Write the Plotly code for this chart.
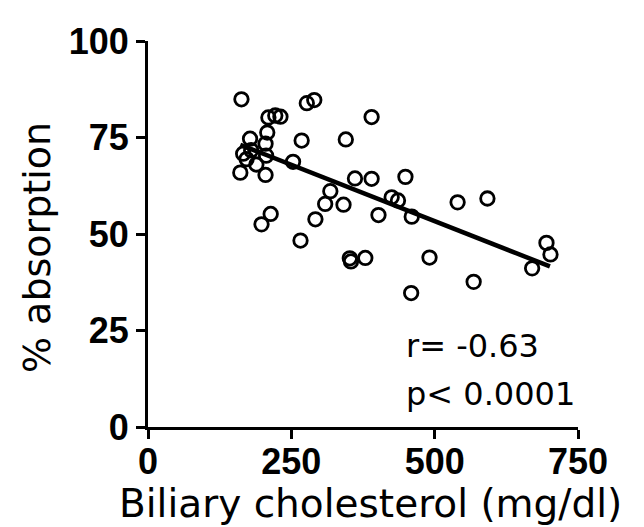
import plotly.graph_objects as go

# Biliary cholesterol (mg/dl) and % absorption
chol = [163, 210, 222, 231, 277, 290, 390, 208, 178, 205, 268, 345, 166, 180, 172,
        206, 189, 253, 161, 205, 361, 390, 449, 318, 309, 341, 425, 436, 460, 402,
        292, 540, 592, 214, 198, 266, 352, 354, 379, 491, 695, 702, 670, 568, 459]
absorb = [84.9, 80.2, 80.7, 80.4, 83.9, 84.7, 80.3, 76.3, 74.7, 73.4, 74.2, 74.5, 70.8, 71.7, 69.4,
          70.3, 68.0, 68.7, 65.9, 65.3, 64.4, 64.3, 64.8, 61.1, 57.8, 57.6, 59.5, 58.7, 54.5, 54.9,
          53.8, 58.2, 59.2, 55.2, 52.5, 48.3, 43.7, 42.9, 43.8, 43.9, 47.7, 44.7, 41.1, 37.6, 34.7]

# regression line end points
fit_chol = [161, 701]
fit_absorb = [73.1, 41.6]

x_ticks = [0, 250, 500, 750]
y_ticks = [0, 25, 50, 75, 100]
stats_text = ["r= -0.63", "p< 0.0001"]
stats_x = [447, 447]
stats_y = [20.9, 8.6]

fig = go.Figure()
fig.add_trace(go.Scatter(x=fit_chol, y=fit_absorb, mode="lines",
                         line=dict(color="black", width=4.5), showlegend=False,
                         hoverinfo="skip"))
fig.add_trace(go.Scatter(x=chol, y=absorb, mode="markers",
                         marker=dict(symbol="circle-open", size=13.5, color="black",
                                     line=dict(width=2.8, color="black")),
                         showlegend=False))

for t, xx, yy in zip(stats_text, stats_x, stats_y):
    fig.add_annotation(x=xx, y=yy, xref="x", yref="y", text=t, showarrow=False,
                       xanchor="left", yanchor="middle",
                       font=dict(family="DejaVu Sans", size=32, color="black"))

fig.add_annotation(x=0.5186, y=-0.199, xref="paper", yref="paper",
                   text="Biliary cholesterol (mg/dl)", showarrow=False,
                   xanchor="center", yanchor="middle",
                   font=dict(family="DejaVu Sans", size=39, color="black"))
fig.add_annotation(x=-0.258, y=0.4637, xref="paper", yref="paper",
                   text="% absorption", showarrow=False, textangle=-90,
                   xanchor="center", yanchor="middle",
                   font=dict(family="DejaVu Sans", size=38, color="black"))

axis_common = dict(showline=True, linecolor="black", linewidth=3, ticks="outside",
                   ticklen=9, tickwidth=2.5, tickcolor="black", showgrid=False,
                   zeroline=False, tickfont=dict(family="Liberation Sans", size=36,
                                                 color="black", weight="bold"))
fig.update_xaxes(range=[0, 750], tickvals=x_ticks, ticktext=[str(v) for v in x_ticks],
                 ticklabelstandoff=-8, **axis_common)
fig.update_yaxes(range=[0, 100], tickvals=y_ticks, ticktext=[str(v) for v in y_ticks],
                 **axis_common)

fig.update_layout(width=644, height=527, margin=dict(l=148, r=66, t=41, b=100),
                  plot_bgcolor="white", paper_bgcolor="white")

fig.write_html("out.html")
